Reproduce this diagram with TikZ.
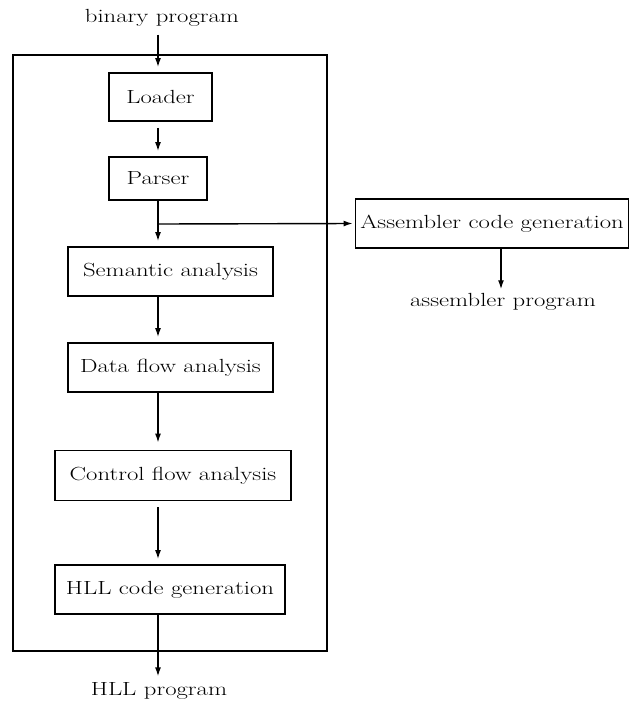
\documentclass[tikz,border=0pt]{standalone}
\usetikzlibrary{arrows.meta}
\newcommand{\wtxt}[1]{\scalebox{1.3}[1]{#1}}
\begin{document}
\begin{tikzpicture}[x=1pt,y=-1pt,
  box/.style={draw,line width=1.8pt,inner sep=0pt,font=\fontsize{19}{21}\selectfont},
  lbl/.style={inner sep=0pt,font=\fontsize{19}{21}\selectfont},
  arr/.style={line width=1.4pt,-{Latex[length=9pt,width=6pt]}}]
\useasboundingbox (0,0) rectangle (631,707);
\node[box,minimum width=314pt,minimum height=596pt] (outer) at (170,353) {};
\node[lbl] (bin) at (162,18) {\wtxt{binary program}};
\node[box,minimum width=103pt,minimum height=48pt] (loader) at (160.5,97) {\wtxt{Loader}};
\node[box,minimum width=98pt,minimum height=43pt] (parser) at (158,178.5) {\wtxt{Parser}};
\node[box,minimum width=205pt,minimum height=49pt] (sem) at (170.5,271.5) {\wtxt{Semantic analysis}};
\node[box,minimum width=205pt,minimum height=49pt] (data) at (170.5,367.5) {\wtxt{Data flow analysis}};
\node[box,minimum width=236pt,minimum height=50pt] (ctrl) at (173,475.5) {\wtxt{Control flow analysis}};
\node[box,minimum width=230pt,minimum height=49pt] (hll) at (170,589.5) {\wtxt{HLL code generation}};
\node[box,minimum width=273pt,minimum height=49pt] (asm) at (492,223.5) {\wtxt{Assembler code generation}};
\node[lbl] (hllp) at (159,691) {\wtxt{HLL program}};
\node[lbl] (asmp) at (503,302) {\wtxt{assembler program}};
\coordinate (br) at (158,224);
\draw[arr,shorten <=8pt,shorten >=5pt] (bin.south -| br) -- (loader.north -| br);
\draw[arr,shorten <=6pt,shorten >=5pt] (loader.south -| br) -- (parser.north -| br);
\draw[arr,shorten >=5pt] (parser.south -| br) -- (sem.north -| br);
\draw[arr,shorten >=2pt] (br) -- (asm.west);
\draw[arr,shorten >=5pt] (sem.south -| br) -- (data.north -| br);
\draw[arr,shorten >=7pt] (data.south -| br) -- (ctrl.north -| br);
\draw[arr,shorten <=6pt,shorten >=5pt] (ctrl.south -| br) -- (hll.north -| br);
\draw[arr,shorten >=6pt] (hll.south -| br) -- (hllp.north -| br);
\draw[arr,shorten >=4pt] (asm.south -| 501,0) -- (asmp.north -| 501,0);
\end{tikzpicture}
\end{document}
